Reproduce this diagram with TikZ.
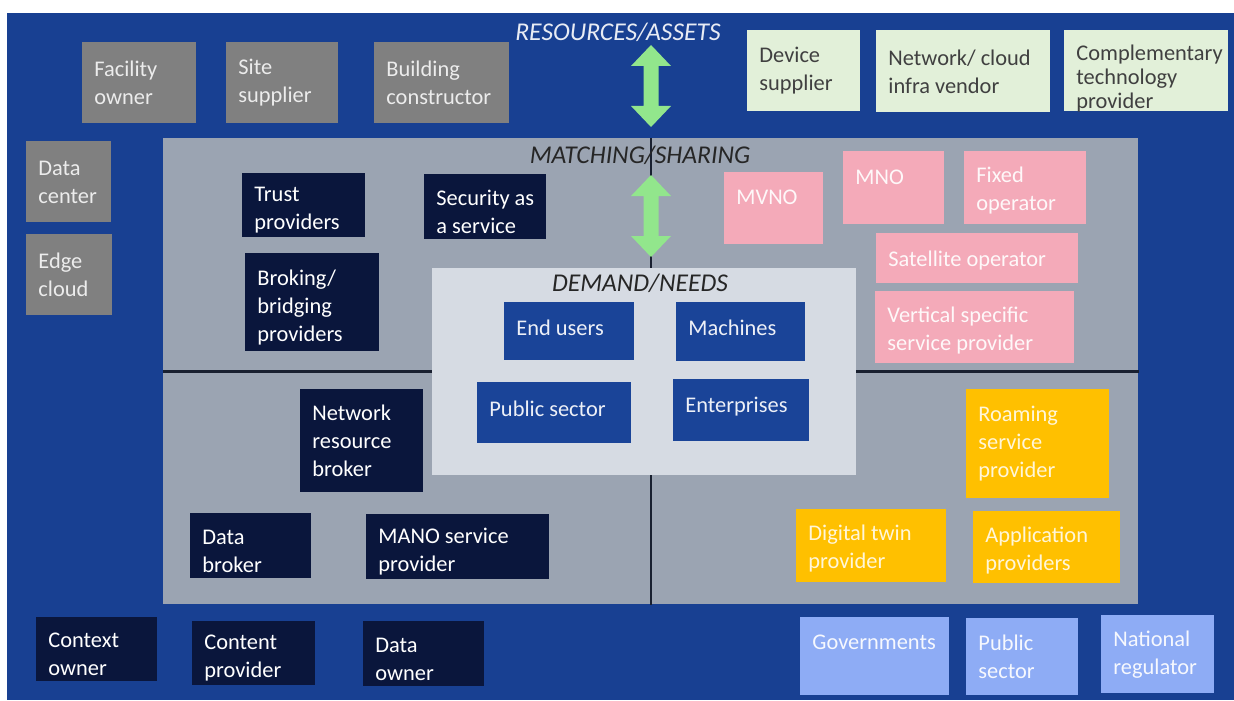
\documentclass[tikz,border=0pt]{standalone}
\usepackage{fontspec}
\setmainfont{Carlito}
\definecolor{bgblue}{RGB}{24,64,146}
\definecolor{panelgray}{RGB}{155,164,178}
\definecolor{lightpanel}{RGB}{214,219,227}
\definecolor{boxgray}{RGB}{128,128,128}
\definecolor{navy}{RGB}{10,22,60}
\definecolor{palegreen}{RGB}{226,240,217}
\definecolor{pinkbox}{RGB}{244,170,185}
\definecolor{orangebox}{RGB}{255,192,0}
\definecolor{lightbluebox}{RGB}{142,172,245}
\definecolor{innerblue}{RGB}{26,68,152}
\definecolor{arrowgreen}{RGB}{146,230,140}
\definecolor{divider}{RGB}{25,32,48}
\newcommand\mybox[8][]{%
  \pgfmathsetmacro\myW{(#6-#4)*0.5}%
  \pgfmathsetmacro\myH{(#7-#5)*0.5}%
  \node[#3, minimum width=\myW pt, minimum height=\myH pt, anchor=north west, inner sep=0pt] (#2) at (#4,#5) {};%
  \node[#3 text, anchor=west, align=left, inner sep=0pt, xshift=6pt, #1] (#2-t) at (#2.west) {#8};%
}
\newcommand\myarrow[3]{% center x, top y, bottom y
  \fill[arrowgreen] (#1,#2) -- (#1+20,#2+21) -- (#1+7.5,#2+21) -- (#1+7.5,#3-21) -- (#1+20,#3-21)
    -- (#1,#3) -- (#1-20,#3-21) -- (#1-7.5,#3-21) -- (#1-7.5,#2+21) -- (#1-20,#2+21) -- cycle;%
}
\begin{document}
\begin{tikzpicture}[x=0.5pt,y=-0.5pt,
  every node/.style={font=\fontsize{11.2}{14}\selectfont},
  gbox/.style={fill=boxgray},
  gbox text/.style={text=white!85!gray},
  nbox/.style={fill=navy},
  nbox text/.style={text=white, yshift=-2.5pt},
  grbox/.style={fill=palegreen},
  grbox text/.style={text=black!75},
  pbox/.style={fill=pinkbox},
  pbox text/.style={text=white!92!pinkbox, yshift=-1.5pt},
  obox/.style={fill=orangebox},
  obox text/.style={text=white!85!orangebox},
  lbbox/.style={fill=lightbluebox},
  lbbox text/.style={text=white!92!lightbluebox},
  ibox/.style={fill=innerblue},
  ibox text/.style={text=white!92!innerblue, yshift=2pt},
  heading/.style={font=\fontsize{12.8}{15}\selectfont\itshape},
  divline/.style={draw=divider, line width=1.1pt}
]
\useasboundingbox (0,0) rectangle (1234,700);
\fill[white] (0,0) rectangle (1234,700);
\fill[bgblue] (7,13) rectangle (1234,700);

% panels
\node[fill=panelgray, minimum width=487.5pt, minimum height=233pt, anchor=north west, inner sep=0pt] (panel) at (163,138) {};
\draw[divline] (panel.west) -- (panel.east);
\draw[divline] (panel.north) -- (panel.south);
\node[heading, text=black!85] (matching) at (640,155) {MATCHING/SHARING};
\node[heading, text=white!90!bgblue] (resources) at (618,32) {RESOURCES/ASSETS};

% arrows
\myarrow{651}{45}{127}
\myarrow{651}{175}{257}

% demand box
\node[fill=lightpanel, minimum width=212pt, minimum height=103.5pt, anchor=north west, inner sep=0pt] (demand) at (432,268) {};
\node[heading, text=black!85] (demandlbl) at (640,283) {DEMAND/NEEDS};
\mybox{endusers}{ibox}{504}{302}{634}{360}{End users}
\mybox{machines}{ibox}{676}{302}{805}{361}{Machines}
\mybox{publicsec}{ibox}{477}{382}{631}{443}{Public sector}
\mybox{enterprises}{ibox}{673}{379}{809}{441}{Enterprises}

% top gray boxes
\mybox{facility}{gbox}{82}{42}{196}{123}{Facility\\owner}
\mybox{site}{gbox}{226}{42}{338}{123}{Site\\supplier}
\mybox{building}{gbox}{374}{42}{509}{123}{Building\\constructor}
\mybox{datacenter}{gbox}{26}{141}{111}{222}{Data\\center}
\mybox{edgecloud}{gbox}{26}{234}{112}{315}{Edge\\cloud}

% top green boxes
\mybox{device}{grbox}{747}{30}{860}{111}{Device\\supplier}
\mybox{netcloud}{grbox}{876}{30}{1050}{112}{Network/ cloud\\infra vendor}
\mybox[yshift=-4pt]{complementary}{grbox}{1064}{30}{1228}{111}{Complementary\\[-2pt]technology\\[-2pt]provider}

% navy boxes
\mybox{trust}{nbox}{242}{173}{365}{237}{Trust\\providers}
\mybox{security}{nbox}{424}{174}{546}{239}{Security as\\a service}
\mybox{broking}{nbox}{245}{253}{379}{351}{Broking/\\bridging\\providers}
\mybox[yshift=2.5pt]{netbroker}{nbox}{300}{389}{423}{492}{Network\\resource\\broker}
\mybox{databroker}{nbox}{190}{513}{311}{578}{Data\\broker}
\mybox{mano}{nbox}{366}{514}{549}{579}{MANO service\\provider}
\mybox{context}{nbox}{36}{617}{157}{681}{Context\\owner}
\mybox{content}{nbox}{192}{621}{315}{685}{Content\\provider}
\mybox{dataowner}{nbox}{363}{621}{484}{686}{Data\\owner}

% pink boxes
\mybox{mvno}{pbox}{724}{172}{823}{244}{MVNO\\\mbox{}}
\mybox{mno}{pbox}{843}{151}{944}{224}{MNO\\\mbox{}}
\mybox{fixed}{pbox}{964}{151}{1086}{224}{Fixed\\operator}
\mybox[yshift=0.5pt]{satellite}{pbox}{876}{233}{1078}{283}{Satellite operator}
\mybox{vertical}{pbox}{875}{291}{1074}{363}{Vertical specific\\service provider}

% orange boxes
\mybox{roaming}{obox}{966}{389}{1109}{498}{Roaming\\service\\provider}
\mybox[yshift=-1.5pt]{digitaltwin}{obox}{796}{509}{946}{582}{Digital twin\\provider}
\mybox[yshift=-1.5pt]{application}{obox}{973}{511}{1120}{583}{Application\\providers}

% light blue boxes
\mybox{governments}{lbbox}{800}{617}{949}{695}{Governments\\\mbox{}}
\mybox{publicsector}{lbbox}{966}{618}{1078}{695}{Public\\sector}
\mybox{regulator}{lbbox}{1101}{615}{1214}{693}{National\\regulator}
\end{tikzpicture}
\end{document}
